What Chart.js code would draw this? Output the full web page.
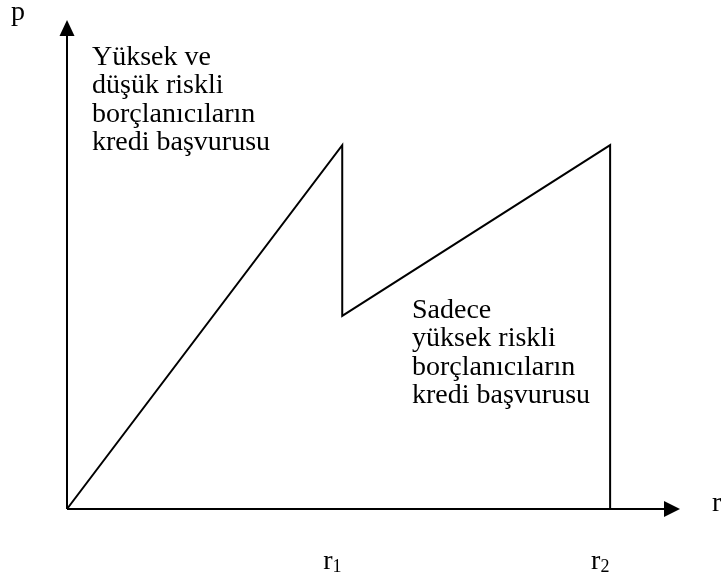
<!DOCTYPE html>
<html>
<head>
<meta charset="utf-8">
<script src="https://cdn.jsdelivr.net/npm/chart.js@4"></script>
<style>
  html, body { margin: 0; padding: 0; background: #fff; }
  canvas { display: block; }
</style>
</head>
<body>
<canvas id="creditChart" width="721" height="580"></canvas>
<script>
// Kredi başvurusu eğrisi: faiz oranı (r) - başvuru (p)
const rValues = [0, 4.49, 4.49, 8.86, 8.86];
const pValues = [0, 7.44, 3.95, 7.44, 0];
const axisMax = { r: 10, p: 10 };

const tickLabels = [
  { text: 'r', sub: '1', at: 4.49 },
  { text: 'r', sub: '2', at: 8.86 }
];
const upperNote = ['Yüksek ve', 'düşük riskli', 'borçlanıcıların', 'kredi başvurusu'];
const lowerNote = ['Sadece', 'yüksek riskli', 'borçlanıcıların', 'kredi başvurusu'];

const FONT = '"Liberation Serif", "Times New Roman", serif';

// axes with arrow heads plus the text labels
const axesPlugin = {
  id: 'arrowAxes',
  afterDatasetsDraw(chart) {
    const { ctx, scales: { x, y } } = chart;
    const x0 = x.getPixelForValue(0);
    const y0 = y.getPixelForValue(0);
    const xEnd = x.getPixelForValue(axisMax.r);
    const yEnd = y.getPixelForValue(axisMax.p);

    ctx.save();
    ctx.strokeStyle = '#000';
    ctx.fillStyle = '#000';
    ctx.lineWidth = 2;

    ctx.beginPath();
    ctx.moveTo(x0, y0);
    ctx.lineTo(x0, yEnd + 14);
    ctx.moveTo(x0, y0);
    ctx.lineTo(xEnd - 14, y0);
    ctx.stroke();

    // arrow heads
    ctx.beginPath();
    ctx.moveTo(x0, yEnd);
    ctx.lineTo(x0 - 7.5, yEnd + 16);
    ctx.lineTo(x0 + 7.5, yEnd + 16);
    ctx.closePath();
    ctx.fill();

    ctx.beginPath();
    ctx.moveTo(xEnd, y0);
    ctx.lineTo(xEnd - 16, y0 - 8);
    ctx.lineTo(xEnd - 16, y0 + 8);
    ctx.closePath();
    ctx.fill();

    ctx.font = '28px ' + FONT;
    ctx.textBaseline = 'alphabetic';
    ctx.fillText('p', 11, 20);
    ctx.fillText('r', xEnd + 32, y0 + 2);

    tickLabels.forEach(t => {
      const px = x.getPixelForValue(t.at) - 19;
      ctx.font = '28px ' + FONT;
      ctx.fillText(t.text, px, y0 + 60);
      const w = ctx.measureText(t.text).width;
      ctx.font = '18px ' + FONT;
      ctx.fillText(t.sub, px + w, y0 + 63);
    });

    ctx.font = '28px ' + FONT;
    upperNote.forEach((line, i) => ctx.fillText(line, 92, 65 + i * 28.4));
    lowerNote.forEach((line, i) => ctx.fillText(line, 412, 318 + i * 28.4));

    ctx.restore();
  }
};

new Chart(document.getElementById('creditChart'), {
  type: 'scatter',
  data: {
    datasets: [{
      data: rValues.map((r, i) => ({ x: r, y: pValues[i] })),
      showLine: true,
      borderColor: '#000',
      borderWidth: 2,
      pointRadius: 0,
      tension: 0,
      clip: false
    }]
  },
  options: {
    responsive: false,
    animation: false,
    layout: { padding: { left: 67, right: 41, top: 20, bottom: 71 } },
    plugins: { legend: { display: false }, tooltip: { enabled: false } },
    scales: {
      x: { type: 'linear', min: 0, max: axisMax.r, display: false },
      y: { type: 'linear', min: 0, max: axisMax.p, display: false }
    }
  },
  plugins: [axesPlugin]
});
</script>
</body>
</html>
